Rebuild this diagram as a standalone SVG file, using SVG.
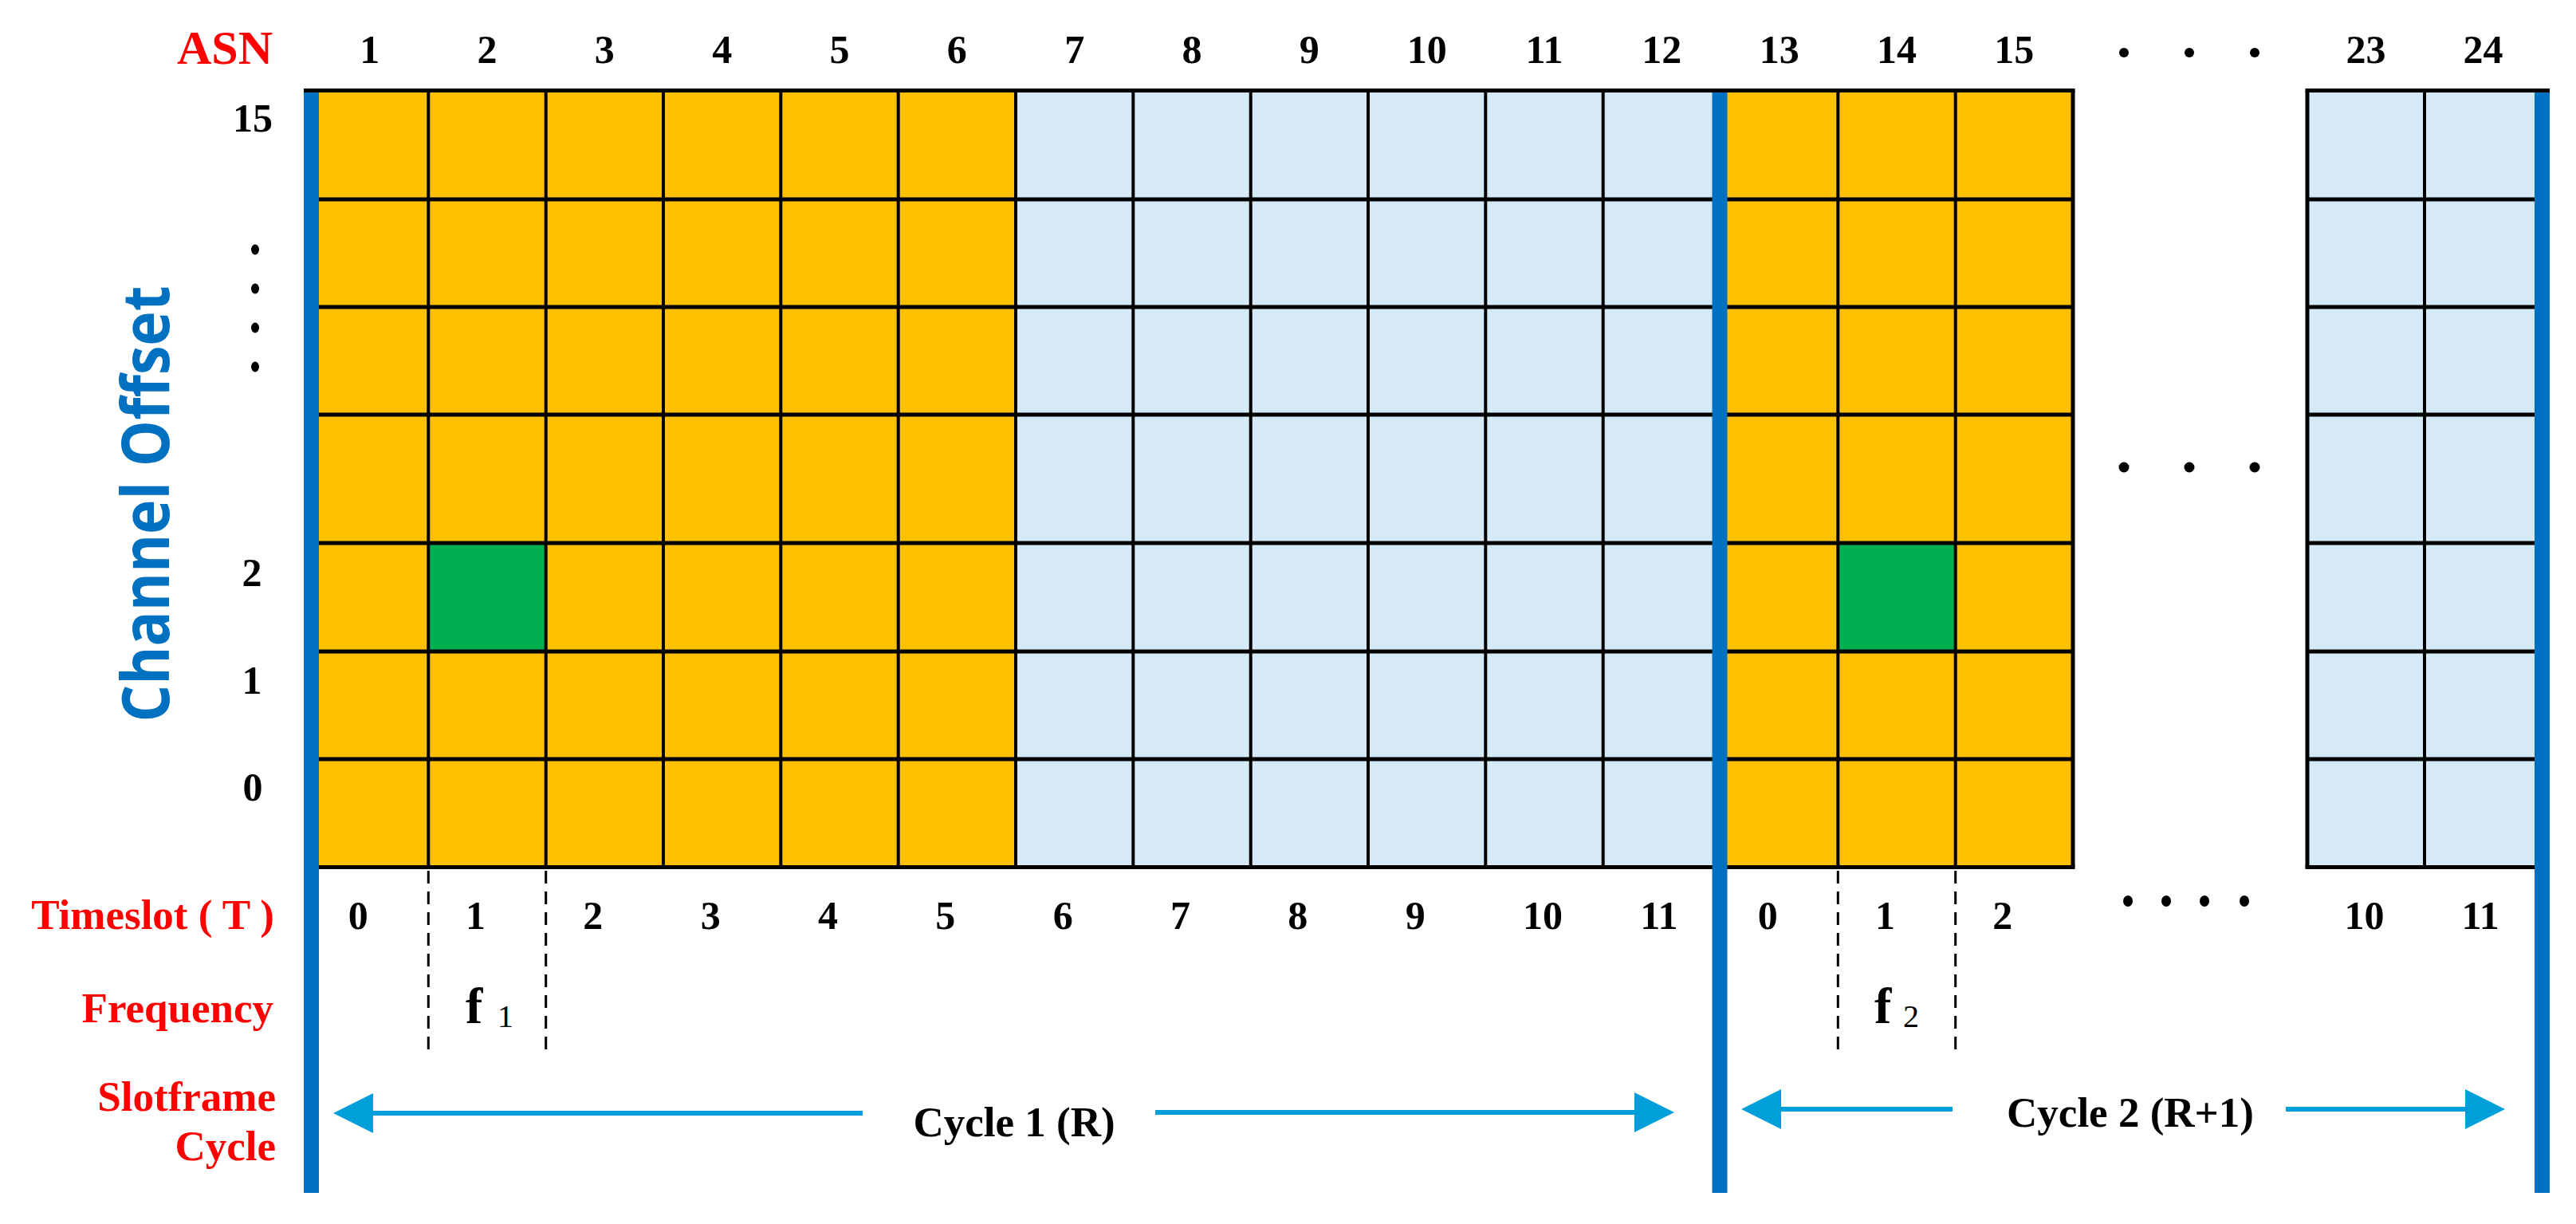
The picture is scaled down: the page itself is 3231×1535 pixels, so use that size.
<svg xmlns="http://www.w3.org/2000/svg" width="3231" height="1535" viewBox="0 0 3231 1535">
<style>
.num{font-family:"Liberation Serif","Times New Roman",serif;font-weight:bold;font-size:50px;fill:#000;text-anchor:middle}
.ts{font-family:"Liberation Serif","Times New Roman",serif;font-weight:bold;font-size:50px;fill:#000;text-anchor:start}
.lab{font-family:"Liberation Serif","Times New Roman",serif;font-weight:bold;font-size:53px;fill:#ff0000;text-anchor:end}
.cyc{font-family:"Liberation Serif","Times New Roman",serif;font-weight:bold;font-size:53px;fill:#000;text-anchor:middle}
.frq{font-family:"Liberation Serif","Times New Roman",serif;font-weight:bold;fill:#000}
.or{fill:#FFC000}
.lb{fill:#D5EAF6}
.gr{fill:#00B050}
.hl{stroke:#000;stroke-width:5}
.vl{stroke:#000;stroke-width:4}
.bar{fill:#0070C0}
.dash{stroke:#000;stroke-width:3;stroke-dasharray:16 10}
.dot{fill:#000}
.arr{stroke:#009FDA;stroke-width:6;fill:none;marker-end:url(#ah)}
</style>
<defs>
<marker id="ah" markerUnits="userSpaceOnUse" viewBox="0 0 50 50" markerWidth="50" markerHeight="50" refX="40" refY="25" orient="auto">
<path d="M0,0 L50,25 L0,50 z" fill="#009FDA"/>
</marker>
</defs>
<rect width="3231" height="1535" fill="#fff"/>

<g id="grid-block1">
<rect class="or" x="390" y="113.5" width="884" height="974"/>
<rect class="lb" x="1274" y="113.5" width="884" height="974"/>
<rect class="or" x="2158" y="113.5" width="442" height="974"/>
<rect class="gr" x="537.3" y="681" width="147.4" height="136"/>
<rect class="gr" x="2305.3" y="681" width="147.4" height="136"/>
<g class="hl">
<line x1="390" y1="250" x2="2600" y2="250"/>
<line x1="390" y1="385" x2="2600" y2="385"/>
<line x1="390" y1="520" x2="2600" y2="520"/>
<line x1="390" y1="681" x2="2600" y2="681"/>
<line x1="390" y1="817" x2="2600" y2="817"/>
<line x1="390" y1="952" x2="2600" y2="952"/>
<line x1="390" y1="1087.5" x2="2602.5" y2="1087.5"/>
<line x1="2600" y1="113.5" x2="2600" y2="1087.5"/>
</g>
<g class="vl">
<line x1="537.3" y1="113.5" x2="537.3" y2="1087.5"/>
<line x1="684.7" y1="113.5" x2="684.7" y2="1087.5"/>
<line x1="832" y1="113.5" x2="832" y2="1087.5"/>
<line x1="979.3" y1="113.5" x2="979.3" y2="1087.5"/>
<line x1="1126.7" y1="113.5" x2="1126.7" y2="1087.5"/>
<line x1="1274" y1="113.5" x2="1274" y2="1087.5"/>
<line x1="1421.3" y1="113.5" x2="1421.3" y2="1087.5"/>
<line x1="1568.7" y1="113.5" x2="1568.7" y2="1087.5"/>
<line x1="1716" y1="113.5" x2="1716" y2="1087.5"/>
<line x1="1863.3" y1="113.5" x2="1863.3" y2="1087.5"/>
<line x1="2010.7" y1="113.5" x2="2010.7" y2="1087.5"/>
<line x1="2305.3" y1="113.5" x2="2305.3" y2="1087.5"/>
<line x1="2452.7" y1="113.5" x2="2452.7" y2="1087.5"/>
</g>
</g>

<g id="grid-block2">
<rect class="lb" x="2894" y="113.5" width="294" height="974"/>
<g class="hl">
<line x1="2894" y1="250" x2="3188" y2="250"/>
<line x1="2894" y1="385" x2="3188" y2="385"/>
<line x1="2894" y1="520" x2="3188" y2="520"/>
<line x1="2894" y1="681" x2="3188" y2="681"/>
<line x1="2894" y1="817" x2="3188" y2="817"/>
<line x1="2894" y1="952" x2="3188" y2="952"/>
<line x1="2891.5" y1="1087.5" x2="3188" y2="1087.5"/>
<line x1="2894" y1="113.5" x2="2894" y2="1087.5"/>
</g>
<line class="vl" x1="3041" y1="113.5" x2="3041" y2="1087.5"/>
</g>

<g id="cycle-bars">
<rect class="bar" x="381" y="114" width="19" height="1382"/>
<rect class="bar" x="2147.5" y="114" width="19" height="1382"/>
<rect class="bar" x="3179" y="114" width="19" height="1382"/>
</g>

<g id="top-border" class="hl">
<line x1="381" y1="113.5" x2="2602.5" y2="113.5"/>
<line x1="2891.5" y1="113.5" x2="3198" y2="113.5"/>
</g>

<g id="gap-dots" class="dot">
<circle cx="2664" cy="586" r="6.5"/>
<circle cx="2746" cy="586" r="6.5"/>
<circle cx="2828" cy="586" r="6.5"/>
</g>

<g id="asn-labels">
<text class="lab" x="342" y="80" style="font-size:60px">ASN</text>
<text class="num" x="463.7" y="79">1</text>
<text class="num" x="611" y="79">2</text>
<text class="num" x="758.3" y="79">3</text>
<text class="num" x="905.7" y="79">4</text>
<text class="num" x="1053" y="79">5</text>
<text class="num" x="1200.3" y="79">6</text>
<text class="num" x="1347.7" y="79">7</text>
<text class="num" x="1495" y="79">8</text>
<text class="num" x="1642.3" y="79">9</text>
<text class="num" x="1789.7" y="79">10</text>
<text class="num" x="1937" y="79">11</text>
<text class="num" x="2084.3" y="79">12</text>
<text class="num" x="2231.7" y="79">13</text>
<text class="num" x="2379" y="79">14</text>
<text class="num" x="2526.3" y="79">15</text>
<text class="num" x="2967.5" y="79">23</text>
<text class="num" x="3114.5" y="79">24</text>
<g class="dot">
<circle cx="2664" cy="66" r="6"/>
<circle cx="2746" cy="66" r="6"/>
<circle cx="2828" cy="66" r="6"/>
</g>
</g>

<g id="channel-offset-axis">
<text x="0" y="0" transform="translate(212,632) rotate(-90)" style="font-family:'Open Sans','Noto Sans',sans-serif;font-weight:bold;font-size:82px;fill:#0070C0;text-anchor:middle" textLength="547" lengthAdjust="spacingAndGlyphs">Channel Offset</text>
<text class="num" x="317" y="165">15</text>
<text class="num" x="316" y="735">2</text>
<text class="num" x="316" y="870">1</text>
<text class="num" x="317" y="1004">0</text>
<g class="dot">
<ellipse cx="320" cy="313" rx="5" ry="6.5"/>
<ellipse cx="320" cy="362" rx="5" ry="6.5"/>
<ellipse cx="320" cy="411" rx="5" ry="6.5"/>
<ellipse cx="320" cy="460" rx="5" ry="6.5"/>
</g>
</g>

<g id="row-titles">
<text class="lab" x="344" y="1165">Timeslot ( T )</text>
<text class="lab" x="343" y="1282">Frequency</text>
<text class="lab" x="346" y="1393">Slotframe</text>
<text class="lab" x="346" y="1455">Cycle</text>
</g>

<g id="timeslot-labels">
<text class="ts" x="436.7" y="1165">0</text>
<text class="ts" x="584" y="1165">1</text>
<text class="ts" x="731.3" y="1165">2</text>
<text class="ts" x="878.7" y="1165">3</text>
<text class="ts" x="1026" y="1165">4</text>
<text class="ts" x="1173.3" y="1165">5</text>
<text class="ts" x="1320.7" y="1165">6</text>
<text class="ts" x="1468" y="1165">7</text>
<text class="ts" x="1615.3" y="1165">8</text>
<text class="ts" x="1762.7" y="1165">9</text>
<text class="ts" x="1910" y="1165">10</text>
<text class="ts" x="2057.3" y="1165">11</text>
<text class="ts" x="2204.7" y="1165">0</text>
<text class="ts" x="2352" y="1165">1</text>
<text class="ts" x="2499.3" y="1165">2</text>
<text class="ts" x="2940.5" y="1165">10</text>
<text class="ts" x="3087.5" y="1165">11</text>
<g class="dot">
<ellipse cx="2669" cy="1130" rx="6" ry="7"/>
<ellipse cx="2717" cy="1130" rx="6" ry="7"/>
<ellipse cx="2765" cy="1130" rx="6" ry="7"/>
<ellipse cx="2815" cy="1130" rx="6" ry="7"/>
</g>
</g>

<g id="frequency-labels">
<g class="dash">
<line x1="537.3" y1="1092" x2="537.3" y2="1320"/>
<line x1="684.7" y1="1092" x2="684.7" y2="1320"/>
<line x1="2305.3" y1="1092" x2="2305.3" y2="1320"/>
<line x1="2452.7" y1="1092" x2="2452.7" y2="1320"/>
</g>
<text class="frq" x="584" y="1283" style="font-size:64px">f</text>
<text class="frq" x="624" y="1288" style="font-size:40px;font-weight:normal">1</text>
<text class="frq" x="2351" y="1283" style="font-size:64px">f</text>
<text class="frq" x="2387" y="1288" style="font-size:40px;font-weight:normal">2</text>
</g>

<g id="connectors">
<path class="arr" d="M1082,1396 H428"/>
<path class="arr" d="M1449,1395 H2090"/>
<path class="arr" d="M2449,1391 H2194"/>
<path class="arr" d="M2867,1391 H3132"/>
</g>

<g id="cycle-labels">
<text class="cyc" x="1272" y="1425">Cycle 1 (R)</text>
<text class="cyc" x="2672" y="1413">Cycle 2 (R+1)</text>
</g>
</svg>
